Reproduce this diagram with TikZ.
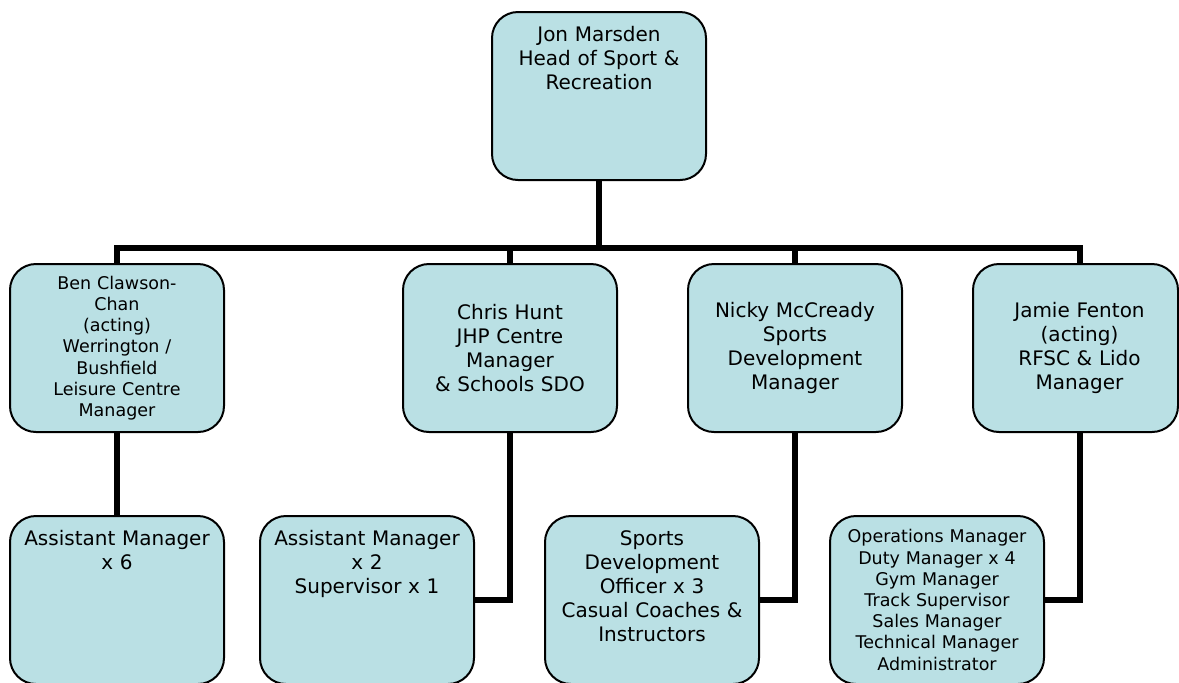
\documentclass[tikz,border=0pt]{standalone}
\usepackage{fontspec}
\setmainfont{DejaVu Sans}

\definecolor{staffblue}{RGB}{186,224,228}

\tikzset{
    staff/.style={draw=black, line width=1pt, fill=staffblue, rounded corners=13pt,
        minimum width=107pt, minimum height=84pt, inner sep=0pt,
        text width=96pt, align=center, font=\fontsize{10}{12}\selectfont},
    small/.style={font=\fontsize{8.75}{10.6}\selectfont},
    caption/.style={anchor=base, inner sep=0pt, text width=96pt, align=center,
        font=\fontsize{10}{12}\selectfont},
    link/.style={line width=3pt},
}

\begin{document}
\begin{tikzpicture}[x=0.5pt, y=-0.5pt]
    \clip (0,0) rectangle (1179,682);

    % head of service
    \node[staff] (head) at (599,96) {};
    \node[caption] (headtxt) at ([yshift=-15pt]head.north) {Jon Marsden\\Head of Sport \&\\Recreation};

    % managers
    \node[staff, small] (ben) at (117,348) {Ben Clawson-\\Chan\\(acting)\\Werrington /\\Bushfield\\Leisure Centre\\Manager};
    \node[staff] (chris) at (510,348) {Chris Hunt\\JHP Centre\\Manager\\\& Schools SDO};
    \node[staff] (nicky) at (795,348) {Nicky McCready\\Sports\\Development\\Manager};
    \node[staff, minimum width=102.5pt, text width=92pt] (jamie) at (1075.5,348) {\hspace*{4pt}Jamie Fenton\\\hspace*{4pt}(acting)\\\hspace*{4pt}RFSC \& Lido\\\hspace*{4pt}Manager};

    % teams
    \node[staff] (ben3) at (117,600) {};
    \node[caption] (ben3txt) at ([yshift=-15pt]ben3.north) {Assistant Manager\\x 6};
    \node[staff] (chris3) at (367,600) {};
    \node[caption] (chris3txt) at ([yshift=-15pt]chris3.north) {Assistant Manager\\x 2\\Supervisor x 1};
    \node[staff] (nicky3) at (652,600) {};
    \node[caption] (nicky3txt) at ([yshift=-15pt]nicky3.north) {Sports\\Development\\Officer x 3\\Casual Coaches \&\\Instructors};
    \node[staff, small] (jamie3) at (937,600) {Operations Manager\\Duty Manager x 4\\Gym Manager\\Track Supervisor\\Sales Manager\\Technical Manager\\Administrator};

    % reporting lines
    \coordinate (bus) at (599,248);
    \draw[link] (head.south) -- (bus);
    \draw[link] (ben.north) |- (bus) -| ([xshift=2.25pt]jamie.north);
    \draw[link] (chris.north) -- (chris.north |- bus);
    \draw[link] (nicky.north) -- (nicky.north |- bus);
    \draw[link] (ben.south) -- (ben3.north);
    \draw[link] (chris.south) |- (chris3.east);
    \draw[link] (nicky.south) |- (nicky3.east);
    \draw[link] ([xshift=2.25pt]jamie.south) |- (jamie3.east);
\end{tikzpicture}
\end{document}
